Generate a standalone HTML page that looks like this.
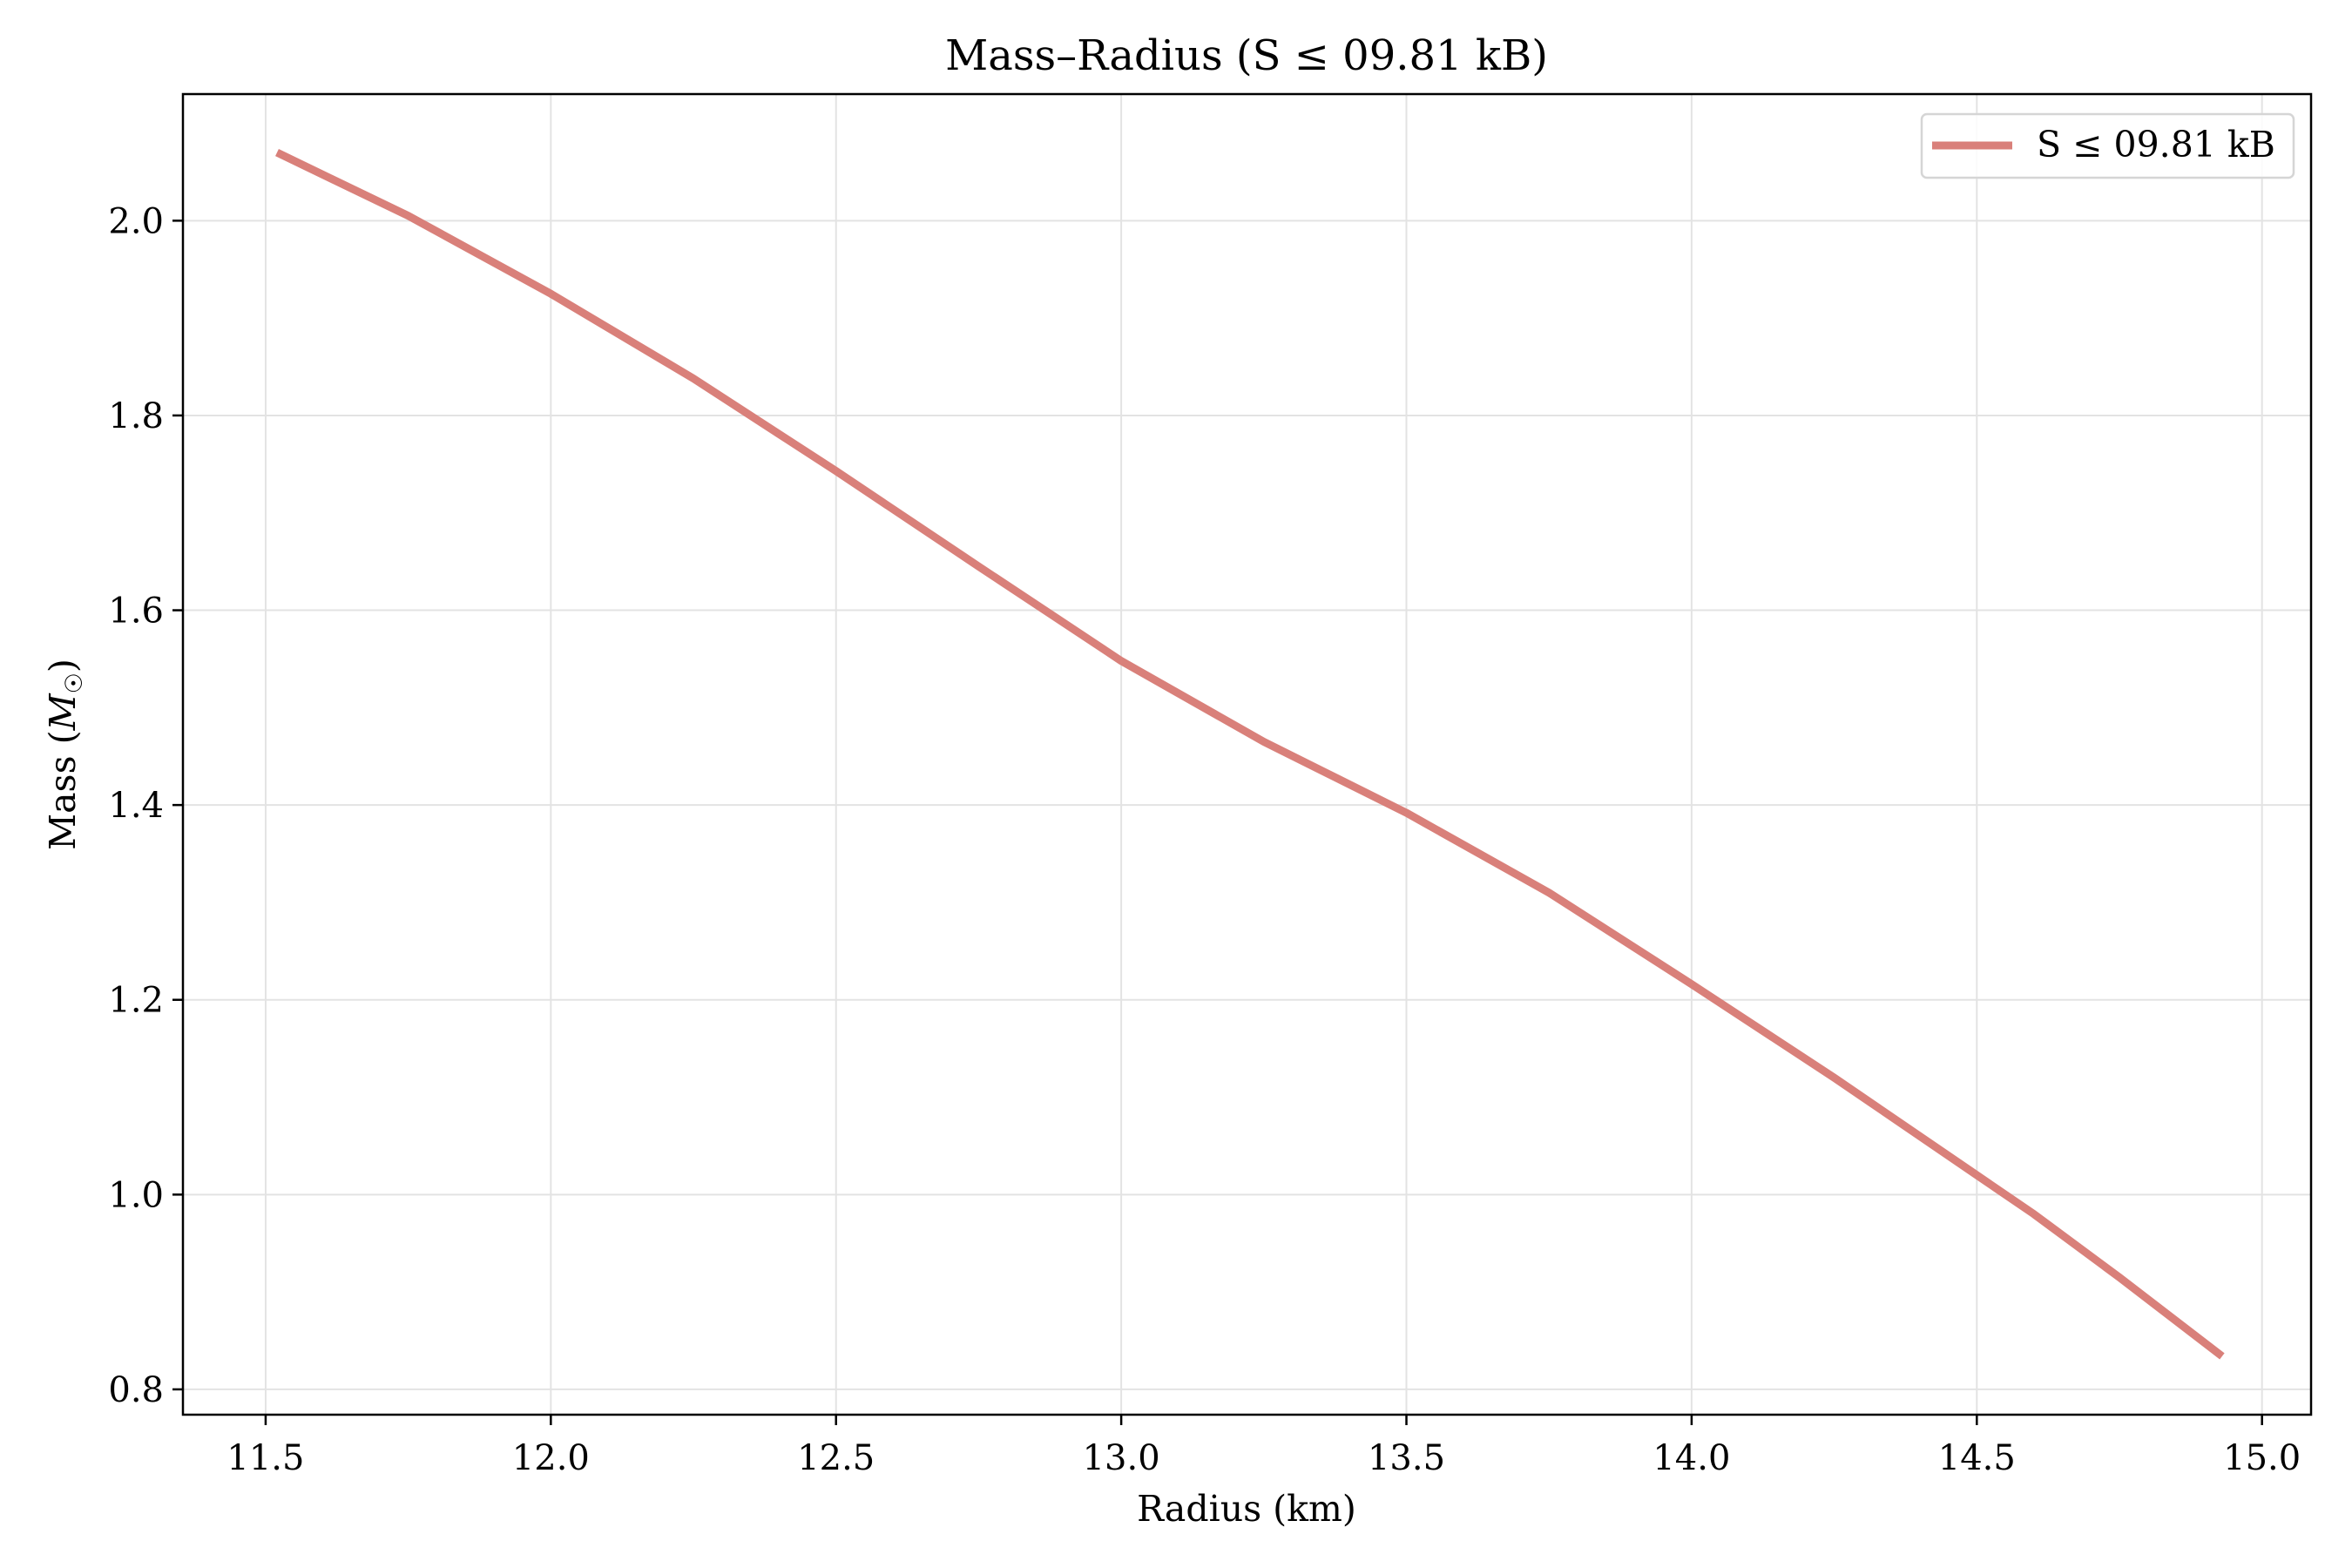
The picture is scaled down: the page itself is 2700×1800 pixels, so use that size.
<!DOCTYPE html>
<html><head><meta charset="utf-8"><style>
body{margin:0;background:#fff;}
svg{display:block;font-family:"DejaVu Serif","Liberation Serif",serif;}
</style></head><body>
<svg id="chart" width="2700" height="1800" viewBox="0 0 2700 1800">
<rect x="0" y="0" width="2700" height="1800" fill="#fff"/>
<g id="grid"></g>
<g id="series"></g>
<rect x="210" y="108" width="2443" height="1516" fill="none" stroke="#000" stroke-width="2.5"/>
<g id="ticks"></g>
<text x="1431" y="80" text-anchor="middle" font-size="48">Mass–Radius (S ≤ 09.81 kB)</text>
<text x="1431" y="1746" text-anchor="middle" font-size="41">Radius (km)</text>
<text transform="translate(86,866) rotate(-90)" text-anchor="middle" font-size="41">Mass (<tspan font-style="italic">M</tspan><tspan font-size="27" dy="8">☉</tspan><tspan dy="-8">)</tspan></text>
<g>
<rect x="2206" y="131" width="427" height="73" rx="6" fill="#fff" fill-opacity="0.85" stroke="#d5d5d5" stroke-width="2.5"/>
<line x1="2218" y1="167" x2="2310" y2="167" stroke="#d9807a" stroke-width="9"/>
<text x="2338" y="180" font-size="41">S ≤ 09.81 kB</text>
</g>
</svg>
<script>
const radius = [11.52, 11.75, 12.0, 12.25, 12.5, 12.75, 13.0, 13.25, 13.5, 13.75, 14.0, 14.25, 14.5, 14.6, 14.75, 14.93];
const mass = [2.07, 2.005, 1.925, 1.838, 1.743, 1.645, 1.548, 1.465, 1.392, 1.31, 1.216, 1.12, 1.02, 0.98, 0.915, 0.834];
const xTicks = [11.5, 12.0, 12.5, 13.0, 13.5, 14.0, 14.5, 15.0];
const yTicks = [0.8, 1.0, 1.2, 1.4, 1.6, 1.8, 2.0];
const L=210,R=2653,T=108,B=1624;
const xmin=11.355,xmax=15.086,ymin=0.774,ymax=2.13;
function sx(v){return L+(v-xmin)/(xmax-xmin)*(R-L);}
function sy(v){return B-(v-ymin)/(ymax-ymin)*(B-T);}
const NS="http://www.w3.org/2000/svg";
function mk(tag,attrs,parent){const e=document.createElementNS(NS,tag);for(const k in attrs)e.setAttribute(k,attrs[k]);parent.appendChild(e);return e;}
const grid=document.getElementById('grid'),ticks=document.getElementById('ticks'),series=document.getElementById('series');
xTicks.forEach(v=>{
  const x=sx(v);
  const g=mk('line',{x1:x,y1:T,x2:x,y2:B,stroke:'#e3e3e3','stroke-width':2},grid);
  
  
  const t=mk('line',{x1:x,y1:B,x2:x,y2:B+12,stroke:'#000','stroke-width':2.5},ticks);
  
  
  const l=mk('text',{x:x,y:B+63,'text-anchor':'middle','font-size':40},ticks);
  l.textContent=v.toFixed(1);
  
  
});
yTicks.forEach(v=>{
  const y=sy(v);
  const g=mk('line',{x1:L,y1:y,x2:R,y2:y,stroke:'#e3e3e3','stroke-width':2},grid);
  
  
  const t=mk('line',{x1:L-12,y1:y,x2:L,y2:y,stroke:'#000','stroke-width':2.5},ticks);
  
  
  const l=mk('text',{x:L-22,y:y+14,'text-anchor':'end','font-size':40},ticks);
  l.textContent=v.toFixed(1);
  
  
});
const pts=radius.map((r,i)=>sx(r).toFixed(1)+','+sy(mass[i]).toFixed(1)).join(' ');
const line=mk('polyline',{points:pts,fill:'none',stroke:'#d9807a','stroke-width':9,'stroke-linejoin':'round'},series);


</script>
</body></html>
